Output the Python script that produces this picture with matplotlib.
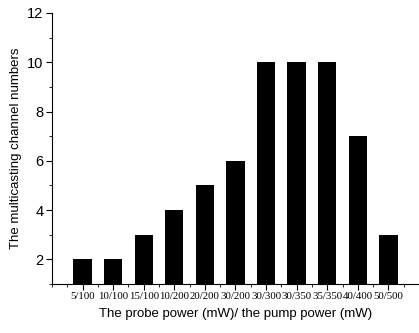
import matplotlib
matplotlib.use("Agg")
import matplotlib.pyplot as plt
import matplotlib.transforms as mtransforms
from matplotlib.ticker import MultipleLocator

power_ratios = ["5/100", "10/100", "15/100", "10/200", "20/200", "30/200",
                "30/300", "30/350", "35/350", "40/400", "50/500"]
channel_numbers = [2, 2, 3, 4, 5, 6, 10, 10, 10, 7, 3]

fig = plt.figure(figsize=(4.19, 3.33), dpi=100)
ax = fig.add_axes([0.124, 0.147, 0.876, 0.814])

positions = list(range(1, len(power_ratios) + 1))
ax.bar(positions, channel_numbers, width=0.6, color="black", bottom=0)

ax.set_xlim(0, 12)
ax.set_ylim(1, 12)

ax.spines["top"].set_visible(False)
ax.spines["right"].set_visible(False)
ax.spines["left"].set_linewidth(0.8)
ax.spines["bottom"].set_linewidth(0.8)

ax.set_xticks(positions)
ax.set_xticklabels(power_ratios, family="Liberation Serif", fontsize=7.8)
ax.xaxis.set_minor_locator(MultipleLocator(0.5))
ax.set_yticks([2, 4, 6, 8, 10, 12])
ax.yaxis.set_minor_locator(MultipleLocator(1))
for lab in ax.get_yticklabels():
    lab.set_family("Liberation Sans")
    lab.set_fontsize(10.5)

# nudge the category labels slightly to the left
shift = mtransforms.ScaledTranslation(-4 / 100, 0, fig.dpi_scale_trans)
for lab in ax.get_xticklabels():
    lab.set_transform(lab.get_transform() + shift)

ax.tick_params(axis="both", which="major", direction="out", length=4, width=0.8, pad=2)
ax.tick_params(axis="both", which="minor", direction="out", length=2, width=0.6)

ax.set_xlabel("The probe power (mW)/ the pump power (mW)",
              family="Liberation Sans", fontsize=9.5, labelpad=5)
ax.set_ylabel("The multicasting channel numbers",
              family="Liberation Sans", fontsize=9.5, labelpad=4)

fig.savefig("out.png", dpi=100)
